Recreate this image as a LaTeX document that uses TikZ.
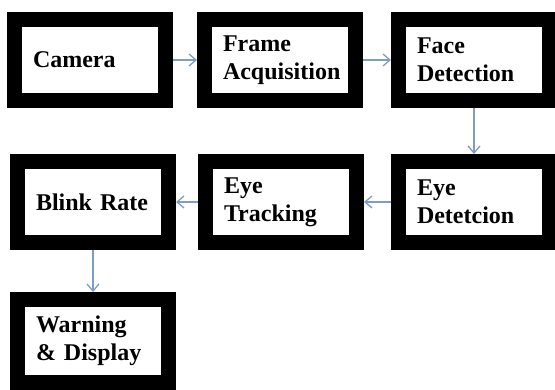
\documentclass[tikz,border=0pt]{standalone}
\usepackage{fontspec}
\setmainfont{Liberation Serif}
\newfontfamily\boxfont[WordSpace=0.6]{Liberation Serif Bold}
\usepackage{tikz}
\usetikzlibrary{arrows.meta,positioning}
\definecolor{arrowblue}{HTML}{7F9CC2}

\begin{document}
\begin{tikzpicture}[
  x=1pt, y=-1pt,
  blk/.style={draw=black, line width=15pt, outer sep=7.5pt, fill=white, minimum width=151pt, minimum height=81pt, text width=114pt, inner xsep=18.5pt, align=left, font=\boxfont\fontsize{24}{28}\selectfont},
  arr/.style={-{Straight Barb[length=7pt,width=12pt]}, line width=1.3pt, color=arrowblue},
]
\useasboundingbox (0,0) rectangle (555,390);

\node[blk] (cam) at (90, 60) {Camera};
\node[blk] (frame) at (280, 60) {Frame\\Acquisition};
\node[blk, minimum width=150pt] (face) at (474, 60) {Face\\Detection};

\node[blk, minimum width=145pt] (eyedet) at (474, 202) {Eye\\Detetcion};
\node[blk] (eyetrack) at (281, 202) {Eye\\Tracking};
\node[blk] (blink) at (93, 202) {Blink Rate};

\node[blk, minimum height=83pt] (warn) at (93, 341) {Warning\\\& Display};

\draw[arr] (cam) -- (frame);
\draw[arr] (frame) -- (face);
\draw[arr] (face) -- (eyedet);
\draw[arr] (eyedet) -- (eyetrack);
\draw[arr] (eyetrack) -- (blink);
\draw[arr] (blink) -- (warn);

\end{tikzpicture}
\end{document}
